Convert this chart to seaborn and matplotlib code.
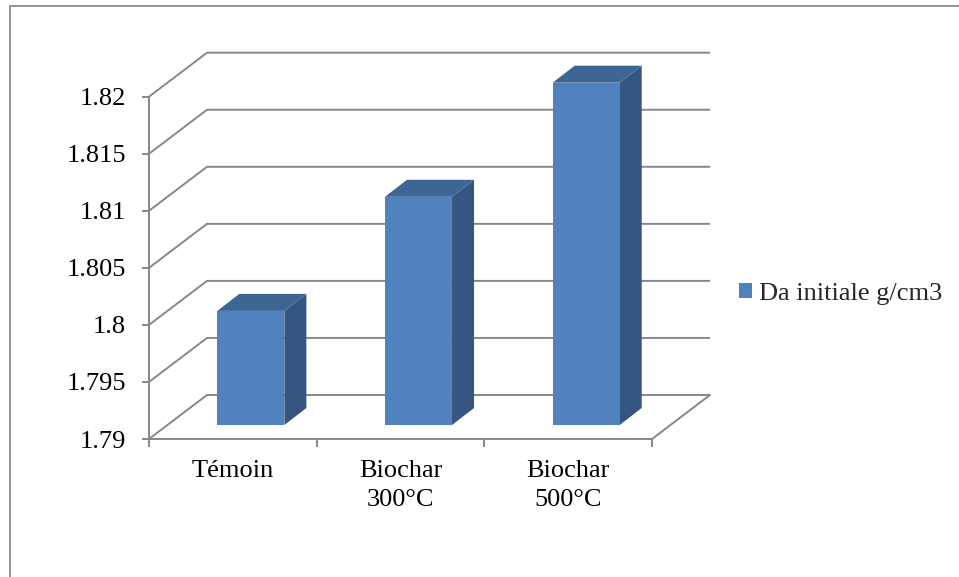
import matplotlib
matplotlib.use("Agg")
import matplotlib.pyplot as plt
import seaborn as sns
from matplotlib.patches import Polygon, Patch
from matplotlib.lines import Line2D

# Data
categories = ["Témoin", "Biochar\n300°C", "Biochar\n500°C"]
values = [1.80, 1.81, 1.82]
series_name = "Da initiale g/cm3"
y_ticks = [1.79, 1.795, 1.80, 1.805, 1.81, 1.815, 1.82]
y_tick_labels = ["1.79", "1.795", "1.8", "1.805", "1.81", "1.815", "1.82"]

# Styling
FRONT = "#4F81BD"
SIDE = "#355680"
TOP = "#3D6695"
GRID = "#878787"
FS = 19

sns.set_theme(style="white")
plt.rcParams["font.family"] = ["Liberation Serif", "DejaVu Serif"]

W, H = 959, 577
fig = plt.figure(figsize=(W / 100, H / 100), dpi=100)
fig.patch.set_facecolor("white")


def rect(l, t, r, b):
    return [l / W, 1 - b / H, (r - l) / W, (b - t) / H]


ymin, ymax = 1.79, 1.82
xmin, xmax = -0.5, len(categories) - 0.5

# front plane of the 3-D box (axis, labels, wall lines)
ax = fig.add_axes(rect(149, 96.7, 652, 439))
# plane through the front faces of the bars, pushed back into the box
bar_dx_px, bar_dy_px = 18, 14
ax_bar = fig.add_axes(rect(149 + bar_dx_px, 96.7 - bar_dy_px,
                           652 + bar_dx_px, 439 - bar_dy_px))
ax_bar.patch.set_alpha(0)

for a in (ax, ax_bar):
    a.set_xlim(xmin, xmax)
    a.set_ylim(ymin, ymax)

# pixel -> data scale of the axes
sx = (652 - 149) / (xmax - xmin)
sy = (439 - 96.7) / (ymax - ymin)

# depth of the whole box and of each bar, in data units
back_dx, back_dy = 58 / sx, 44 / sy
depth_dx, depth_dy = 22 / sx, 17 / sy

# back wall, side wall and floor lines
lw = 1.4
for v in y_ticks:
    ax.plot([xmin, xmin + back_dx, xmax + back_dx], [v, v + back_dy, v + back_dy],
            color=GRID, lw=lw, clip_on=False, zorder=1, solid_capstyle="butt")
ax.plot([xmax, xmax + back_dx], [ymin, ymin + back_dy],
        color=GRID, lw=lw, clip_on=False, zorder=1)

# bars
sns.barplot(x=categories, y=values, ax=ax_bar, color=FRONT, width=0.4,
            saturation=1, edgecolor="none", linewidth=0, zorder=3)
ax_bar.set_xlim(xmin, xmax)
ax_bar.set_ylim(ymin, ymax)

for p, v in zip(ax_bar.patches, values):
    x0 = p.get_x()
    x1 = x0 + p.get_width()
    side = Polygon([(x1, ymin), (x1 + depth_dx, ymin + depth_dy),
                    (x1 + depth_dx, v + depth_dy), (x1, v)],
                   closed=True, facecolor=SIDE, edgecolor="none",
                   clip_on=False, zorder=2)
    top = Polygon([(x0, v), (x1, v), (x1 + depth_dx, v + depth_dy),
                   (x0 + depth_dx, v + depth_dy)],
                  closed=True, facecolor=TOP, edgecolor="none",
                  clip_on=False, zorder=2)
    ax_bar.add_patch(side)
    ax_bar.add_patch(top)

ax_bar.set_axis_off()

# axes of the front plane
for s in ("top", "right"):
    ax.spines[s].set_visible(False)
for s in ("left", "bottom"):
    ax.spines[s].set_color(GRID)
    ax.spines[s].set_linewidth(lw)
ax.patch.set_alpha(0)

ax.set_yticks(y_ticks)
ax.set_yticklabels(y_tick_labels)
ax.tick_params(axis="y", which="major", length=5, width=lw, color=GRID,
               labelsize=FS, labelcolor="black", pad=11.5, left=True)

ax.set_xticks(range(len(categories)))
ax.set_xticklabels(categories, linespacing=1.45)
ax.set_xticks([i - 0.5 for i in range(len(categories) + 1)], minor=True)
ax.tick_params(axis="x", which="major", length=0, labelsize=FS,
               labelcolor="black", pad=15)
ax.tick_params(axis="x", which="minor", length=5.8, width=lw, color=GRID,
               bottom=True)
ax.set_xlabel("")
ax.set_ylabel("")
ax.grid(False)

# legend
ax_bar.legend(handles=[Patch(facecolor=FRONT, edgecolor="none", label=series_name)],
              loc="center left", bbox_to_anchor=(739 / W, 1 - 294 / H),
              bbox_transform=fig.transFigure, frameon=False, fontsize=FS,
              handlelength=0.5, handleheight=0.5, handletextpad=0.25,
              borderpad=0, borderaxespad=0)

# outer chart border
fig.add_artist(Line2D([9.5 / W, 9.5 / W], [0, 1 - 6 / H], transform=fig.transFigure,
                      color="#8c8c8c", lw=1.3))
fig.add_artist(Line2D([9.5 / W, 1], [1 - 6 / H, 1 - 6 / H], transform=fig.transFigure,
                      color="#8c8c8c", lw=1.3))

fig.savefig("out.png", dpi=100, facecolor="white")
